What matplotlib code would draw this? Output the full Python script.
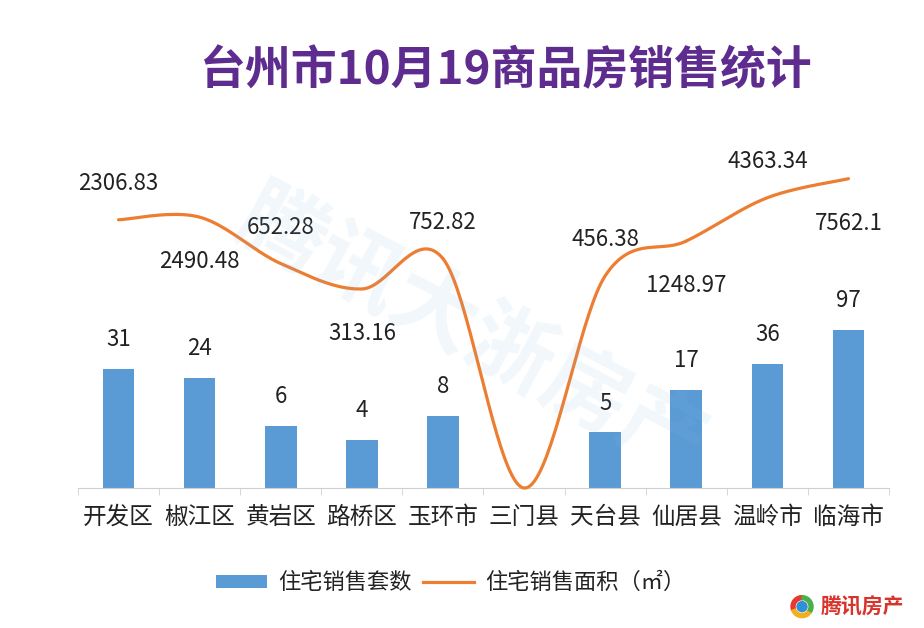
import numpy as np
import matplotlib.pyplot as plt
from matplotlib.patches import Patch, Wedge, Circle
from matplotlib.lines import Line2D

plt.rcParams['font.family'] = ['Noto Sans CJK SC', 'DejaVu Sans']

districts = ['开发区', '椒江区', '黄岩区', '路桥区', '玉环市',
             '三门县', '天台县', '仙居县', '温岭市', '临海市']
units = [31, 24, 6, 4, 8, 0, 5, 17, 36, 97]
area = [2306.83, 2490.48, 652.28, 313.16, 752.82, 0, 456.38, 1248.97, 4363.34, 7562.1]
area_label_pos = ['above', 'below', 'above', 'below', 'above',
                  None, 'above', 'below', 'above', 'below']

bar_color = '#5b9bd5'
line_color = '#ed7d31'

fig = plt.figure(figsize=(9.24, 6.28), dpi=100)
ax = fig.add_axes([0.0844, 0.2229, 0.8777, 0.508])
ax.set_yscale('log')
ax.set_ylim(1, 10000)
x = np.arange(len(districts))
ax.set_xlim(-0.5, len(districts) - 0.5)

ax.bar(x, units, width=0.39, color=bar_color, zorder=2)
for xi, v in zip(x, units):
    if v > 0:
        ax.annotate(str(v), (xi, v), xytext=(0, 21), textcoords='offset points',
                    ha='center', va='center', fontsize=16, color='#222222')

# smoothed line (Excel-style), zero area sits on the baseline of the log axis
ly = np.log10(np.maximum(area, 1))
pts = np.column_stack([x, ly])
ext = np.vstack([pts[0], pts, pts[-1]])
curve = []
for i in range(len(pts) - 1):
    p0, p1, p2, p3 = ext[i], ext[i + 1], ext[i + 2], ext[i + 3]
    t = np.linspace(0, 1, 40)[:, None]
    seg = 0.5 * ((2 * p1) + (-p0 + p2) * t + (2 * p0 - 5 * p1 + 4 * p2 - p3) * t ** 2
                 + (-p0 + 3 * p1 - 3 * p2 + p3) * t ** 3)
    curve.append(seg)
curve = np.vstack(curve)
ax.plot(curve[:, 0], 10 ** curve[:, 1], color=line_color, lw=2.3, zorder=3,
        solid_capstyle='round', clip_on=False)

for xi, v, pos in zip(x, area, area_label_pos):
    if pos is None:
        continue
    dy = 26 if pos == 'above' else -32
    ax.annotate(f'{v:g}', (xi, v), xytext=(0, dy), textcoords='offset points',
                ha='center', va='center', fontsize=16, color='#222222')

for s in ['top', 'left', 'right']:
    ax.spines[s].set_visible(False)
ax.spines['bottom'].set_color('#d0d0d0')
ax.set_yticks([])
ax.minorticks_off()
ax.set_xticks(x)
ax.set_xticklabels(districts, fontsize=17, color='#222222')
ax.set_xticks(np.arange(-0.5, len(districts)), minor=True)
ax.tick_params(axis='x', which='major', length=0, pad=13)
ax.tick_params(axis='x', which='minor', length=5, color='#d0d0d0')
ax.tick_params(axis='y', which='both', left=False, labelleft=False)

# faint watermark
fig.text(0.51, 0.47, '腾讯大浙房产', fontsize=62, fontweight='bold', color='#7fb5e0',
         alpha=0.11, rotation=-28, ha='center', va='center', zorder=0)

fig.text(0.548, 0.886, '台州市10月19商品房销售统计', fontsize=33, fontweight='bold',
         color='#5e2b8f', ha='center', va='center')

handles = [Patch(facecolor=bar_color, label='住宅销售套数'),
           Line2D([], [], color=line_color, lw=2.3, label='住宅销售面积（㎡）')]
fig.legend(handles=handles, loc='center', bbox_to_anchor=(0.488, 0.072), ncol=2,
           frameon=False, fontsize=16, handlelength=2.3, handleheight=0.55,
           columnspacing=0.5, handletextpad=0.5, labelcolor='#222222')

# logo bottom right
lx, ly0 = 0.868, 0.034
fig.add_artist(Wedge((lx * 924, ly0 * 628), 11, 90, 200, width=4, color='#e8382f',
                     transform=None))
fig.add_artist(Wedge((lx * 924, ly0 * 628), 11, 200, 330, width=4, color='#f2b01e',
                     transform=None))
fig.add_artist(Wedge((lx * 924, ly0 * 628), 11, 330, 450, width=4, color='#4cae4c',
                     transform=None))
fig.add_artist(Circle((lx * 924, ly0 * 628), 5, color='#2f8fd8', transform=None))
fig.text(0.888, 0.034, '腾讯房产', fontsize=15, fontweight='bold', color='#d9342b',
         ha='left', va='center')

fig.savefig('out.png', dpi=100, facecolor='white')
